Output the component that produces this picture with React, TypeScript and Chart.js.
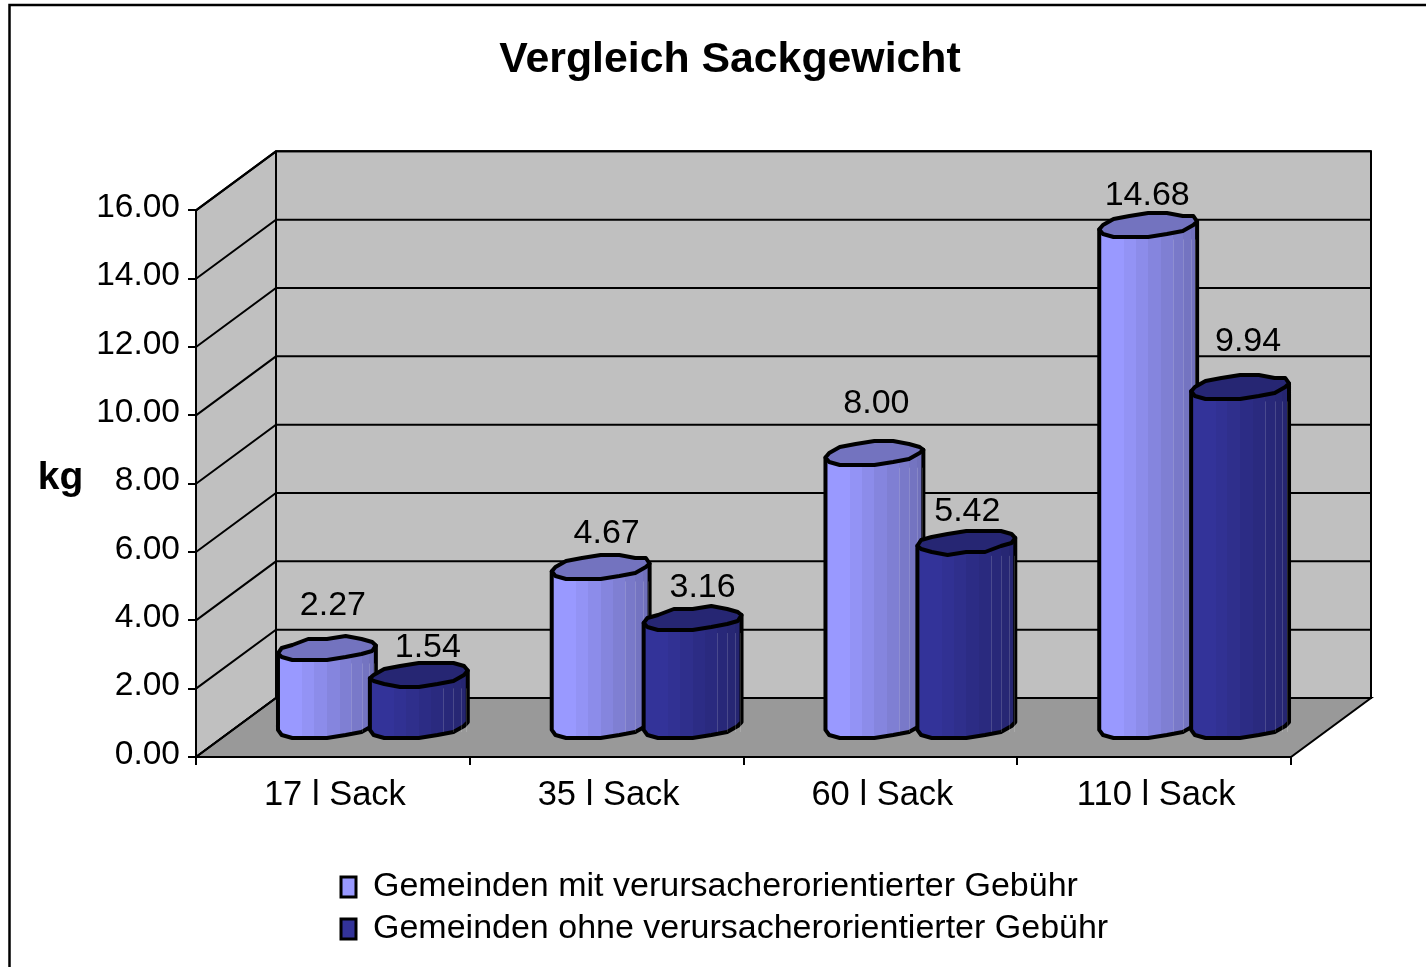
import React, { useEffect, useRef } from "react";
import { Chart, registerables } from "chart.js";

Chart.register(...registerables);

const categories = ["17 l Sack", "35 l Sack", "60 l Sack", "110 l Sack"];
const seriesNames = [
  "Gemeinden mit verursacherorientierter Gebühr",
  "Gemeinden ohne verursacherorientierter Gebühr",
];
const withFee = [2.27, 4.67, 8.0, 14.68];
const withoutFee = [1.54, 3.16, 5.42, 9.94];
const titleText = "Vergleich Sackgewicht";
const yAxisLabel = "kg";

const FONT = "'Liberation Sans', Arial, sans-serif";
const BACK = { x: 80, y: -59 };
const MID = { x: 40, y: -30 };
const CAP = { x: 32, y: -24 };
const labelNudgeWith = [[6, -44], [6, -34], [2, -50], [-1, -30]];
const labelNudgeWithout = [[9, -27], [10, -31], [1, -30], [8, -46]];
const seriesRgb = [[153, 153, 255], [51, 51, 153]];

const shade = (rgb: number[], f: number) =>
  `rgb(${rgb.map((c) => Math.round(c * f)).join(",")})`;

function drawCylinder(ctx: CanvasRenderingContext2D, el: any, rgb: number[]) {
  const w = el.width;
  const cx = el.x + MID.x;
  const topY = el.y + MID.y;
  const baseY = el.base + MID.y;
  const fw = Math.sqrt(w * w - CAP.x * CAP.x);
  const tR = Math.atan2(CAP.x, fw);
  const pt = (t: number, y: number): [number, number] => [
    cx + (fw / 2) * Math.cos(t) + (CAP.x / 2) * Math.sin(t),
    y + (CAP.y / 2) * Math.sin(t),
  ];
  const snap = (p: [number, number]): [number, number] => [p[0], Math.round(p[1] / 3) * 3];
  const STEPS = 8;

  // body
  const grad = ctx.createLinearGradient(cx - w / 2, 0, cx + w / 2, 0);
  const N = 12;
  for (let i = 0; i < N; i++) {
    const a = (1 - Math.cos((Math.PI * i) / N)) / 2;
    const b = (1 - Math.cos((Math.PI * (i + 1)) / N)) / 2;
    const m = (a + b) / 2;
    const f = m < 0.03 ? 0.95 : m < 0.2 ? 1 : 1 - ((m - 0.2) / 0.8) * 0.28;
    grad.addColorStop(a, shade(rgb, f));
    grad.addColorStop(b, shade(rgb, f));
  }
  ctx.beginPath();
  let p = pt(tR + Math.PI, topY);
  ctx.moveTo(p[0], p[1]);
  for (let i = 0; i <= STEPS; i++) {
    const q = i === 0 || i === STEPS
      ? pt(tR + Math.PI + (Math.PI * i) / STEPS, baseY)
      : snap(pt(tR + Math.PI + (Math.PI * i) / STEPS, baseY));
    ctx.lineTo(q[0], q[1]);
  }
  p = pt(tR, topY);
  ctx.lineTo(p[0], p[1]);
  ctx.closePath();
  ctx.fillStyle = grad;
  ctx.fill();
  ctx.lineWidth = 4;
  ctx.lineJoin = "round";
  ctx.strokeStyle = "#000";
  ctx.stroke();

  // faint facet seams towards the right-hand side
  ctx.save();
  ctx.lineWidth = 1;
  ctx.strokeStyle = "rgba(255,255,255,0.16)";
  for (let i = 8; i < N; i += 1) {
    const x = cx - w / 2 + w * (1 - Math.cos((Math.PI * i) / N)) / 2;
    ctx.beginPath();
    ctx.moveTo(Math.round(x) + 0.5, topY + 14);
    ctx.lineTo(Math.round(x) + 0.5, baseY + 6);
    ctx.stroke();
  }
  ctx.restore();

  // top cap
  ctx.beginPath();
  for (let i = 0; i < STEPS * 2; i++) {
    const t = tR + (Math.PI * i) / STEPS;
    const q = i % STEPS === 0 ? pt(t, topY) : snap(pt(t, topY));
    if (i === 0) ctx.moveTo(q[0], q[1]);
    else ctx.lineTo(q[0], q[1]);
  }
  ctx.closePath();
  ctx.fillStyle = shade(rgb, 0.75);
  ctx.fill();
  ctx.stroke();
}

const scene3d = {
  id: "scene3d",
  beforeDraw(chart: any) {
    const { ctx, chartArea: a, scales } = chart;
    const y = scales.y;
    ctx.save();
    ctx.fillStyle = "#fff";
    ctx.fillRect(0, 0, chart.width, chart.height);
    // page frame
    ctx.strokeStyle = "#000";
    ctx.lineWidth = 2.5;
    ctx.beginPath();
    ctx.moveTo(9.5, chart.height);
    ctx.lineTo(9.5, 5);
    ctx.lineTo(chart.width, 5);
    ctx.stroke();
    // walls
    ctx.lineWidth = 2;
    ctx.fillStyle = "#c0c0c0";
    ctx.beginPath();
    ctx.moveTo(a.left, a.bottom);
    ctx.lineTo(a.left, a.top);
    ctx.lineTo(a.left + BACK.x, a.top + BACK.y);
    ctx.lineTo(a.right + BACK.x, a.top + BACK.y);
    ctx.lineTo(a.right + BACK.x, a.bottom + BACK.y);
    ctx.lineTo(a.left + BACK.x, a.bottom + BACK.y);
    ctx.closePath();
    ctx.fill();
    ctx.stroke();
    // floor
    ctx.fillStyle = "#999999";
    ctx.beginPath();
    ctx.moveTo(a.left, a.bottom);
    ctx.lineTo(a.left + BACK.x, a.bottom + BACK.y);
    ctx.lineTo(a.right + BACK.x, a.bottom + BACK.y);
    ctx.lineTo(a.right, a.bottom);
    ctx.closePath();
    ctx.fill();
    ctx.stroke();
    // grid on both walls
    ctx.beginPath();
    for (const t of y.ticks) {
      const py = y.getPixelForValue(t.value);
      ctx.moveTo(a.left, py);
      ctx.lineTo(a.left + BACK.x, py + BACK.y);
      ctx.lineTo(a.right + BACK.x, py + BACK.y);
    }
    ctx.moveTo(a.left + BACK.x, a.top + BACK.y);
    ctx.lineTo(a.left + BACK.x, a.bottom + BACK.y);
    ctx.stroke();
    // axis title (horizontal)
    ctx.fillStyle = "#000";
    ctx.font = `bold 39px ${FONT}`;
    ctx.textAlign = "center";
    ctx.textBaseline = "middle";
    ctx.fillText(yAxisLabel, 60.5, 478);
    ctx.restore();
  },
  beforeDatasetsDraw(chart: any) {
    const { ctx } = chart;
    ctx.save();
    chart.data.datasets.forEach((_: any, d: number) => {
      chart.getDatasetMeta(d).data.forEach((el: any) => drawCylinder(ctx, el, seriesRgb[d]));
    });
    ctx.restore();
  },
  beforeDatasetDraw() {
    return false;
  },
  afterDatasetsDraw(chart: any) {
    const { ctx } = chart;
    const nudges = [labelNudgeWith, labelNudgeWithout];
    ctx.save();
    ctx.fillStyle = "#000";
    ctx.font = `34px ${FONT}`;
    ctx.textAlign = "center";
    ctx.textBaseline = "middle";
    chart.data.datasets.forEach((ds: any, d: number) => {
      chart.getDatasetMeta(d).data.forEach((el: any, i: number) => {
        const [nx, ny] = nudges[d][i];
        ctx.fillText(ds.data[i].toFixed(2), el.x + MID.x + nx, el.y + MID.y + ny);
      });
    });
    ctx.restore();
  },
  afterLayout(chart: any) {
    const t = chart.titleBlock;
    t.left += 84.5;
    t.right += 84.5;
    const l = chart.legend;
    l.left = 333;
    l.right = 1200;
    l.top = 862;
    l.bottom = 952;
  },
};

export default function App() {
  const ref = useRef<HTMLCanvasElement>(null);
  useEffect(() => {
    const chart = new Chart(ref.current as HTMLCanvasElement, {
      type: "bar",
      data: {
        labels: categories,
        datasets: [
          {
            label: seriesNames[0],
            data: withFee,
            backgroundColor: "#9999ff",
            borderColor: "#000",
            borderWidth: 3,
            categoryPercentage: 0.6715,
            barPercentage: 1.065,
          },
          {
            label: seriesNames[1],
            data: withoutFee,
            backgroundColor: "#333399",
            borderColor: "#000",
            borderWidth: 3,
            categoryPercentage: 0.6715,
            barPercentage: 1.065,
          },
        ],
      },
      options: {
        responsive: false,
        animation: false,
        events: [],
        layout: { padding: { left: 0, right: 135, top: 0, bottom: 0 } },
        scales: {
          x: {
            offset: true,
            grid: { offset: true, drawOnChartArea: false, tickLength: 8, color: "#000", lineWidth: 2 },
            border: { color: "#000", width: 2 },
            ticks: {
              color: "#000",
              font: { family: FONT, size: 34.5 },
              padding: 10,
              labelOffset: 2,
              autoSkip: false,
              maxRotation: 0,
            },
            afterFit(scale: any) {
              scale.height = 116;
            },
          },
          y: {
            min: 0,
            max: 16,
            grid: { drawOnChartArea: false, tickLength: 8, color: "#000", lineWidth: 2 },
            border: { color: "#000", width: 2 },
            ticks: {
              stepSize: 2,
              color: "#000",
              font: { family: FONT, size: 33.5 },
              padding: 8,
              labelOffset: -2.5,
              callback: (v: any) => Number(v).toFixed(2),
            },
            afterFit(scale: any) {
              scale.width = 196;
            },
          },
        },
        plugins: {
          title: {
            display: true,
            text: titleText,
            color: "#000",
            font: { family: FONT, size: 42.8, weight: "bold" },
            padding: { top: 35, bottom: 124 },
          },
          legend: {
            display: true,
            position: "bottom",
            align: "start",
            labels: {
              color: "#000",
              font: { family: FONT, size: 34 },
              boxWidth: 15,
              boxHeight: 20,
              padding: 8,
            },
          },
          tooltip: { enabled: false },
        },
      },
      plugins: [scene3d],
    } as any);
    return () => chart.destroy();
  }, []);
  return (
    <canvas
      ref={ref}
      width={1426}
      height={967}
      style={{ position: "absolute", left: 0, top: 0, display: "block" }}
    />
  );
}
